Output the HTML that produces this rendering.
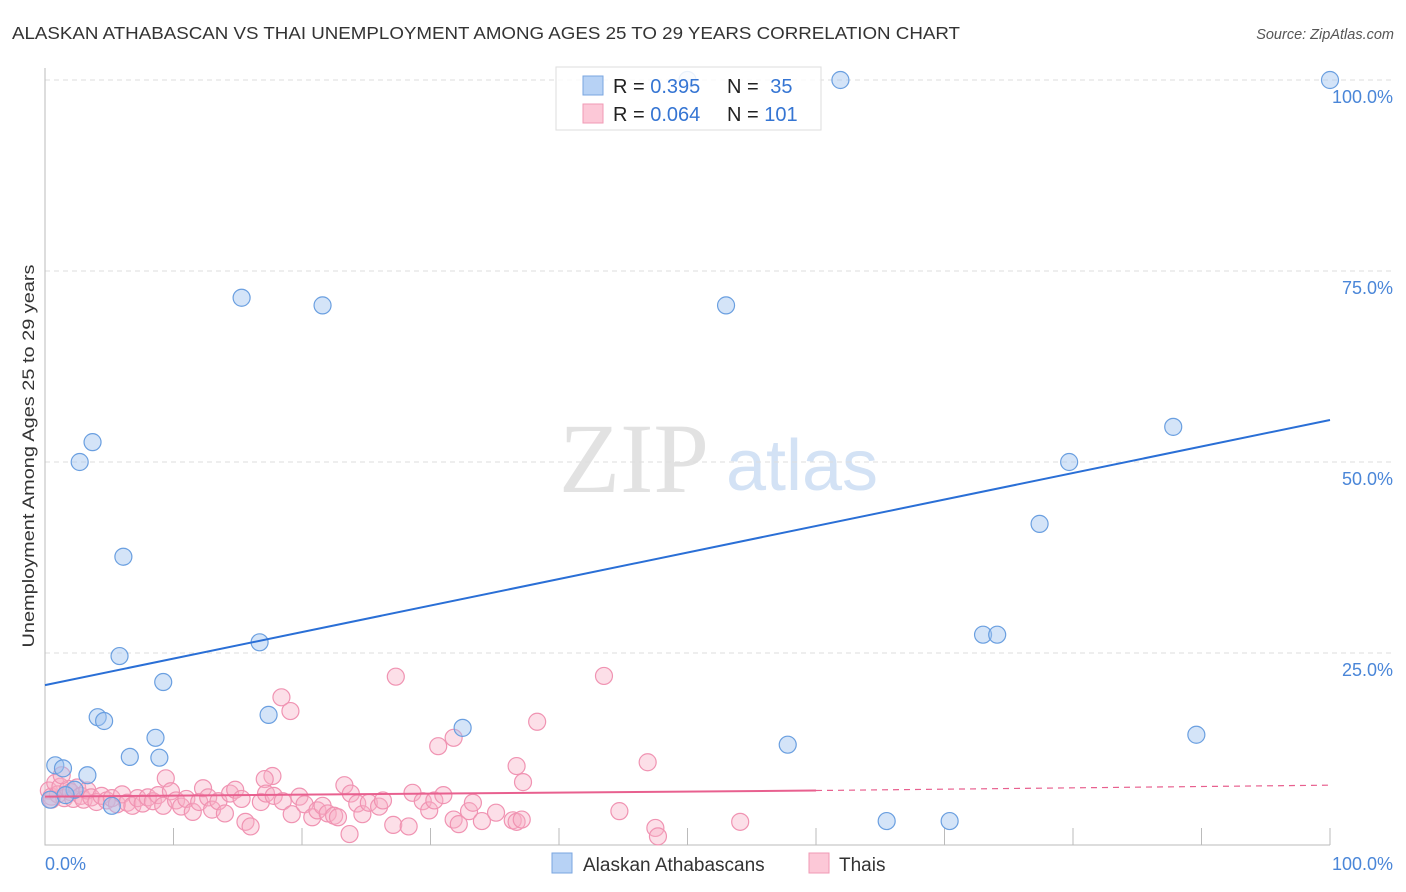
<!DOCTYPE html>
<html><head><meta charset="utf-8"><style>
body{margin:0;background:#fff;font-family:"Liberation Sans",sans-serif}
svg{display:block}
</style></head><body>
<svg id="c" width="1406" height="892" xmlns="http://www.w3.org/2000/svg">
<text x="12" y="39" font-size="17.5" fill="#333" textLength="948" lengthAdjust="spacingAndGlyphs">ALASKAN ATHABASCAN VS THAI UNEMPLOYMENT AMONG AGES 25 TO 29 YEARS CORRELATION CHART</text>
<text x="1394" y="39" font-size="14.5" fill="#555" font-style="italic" text-anchor="end">Source: ZipAtlas.com</text>
<text x="634" y="492" font-size="100" fill="#e2e2e2" text-anchor="middle" font-family="Liberation Serif,serif">ZIP</text>
<text x="802" y="490" font-size="72" fill="#d3e2f5" text-anchor="middle">atlas</text>
<text transform="translate(34,456) rotate(-90)" font-size="17" fill="#333" text-anchor="middle" textLength="383" lengthAdjust="spacingAndGlyphs">Unemployment Among Ages 25 to 29 years</text>
<g id="grid"></g><g id="marks"></g>
<g>
<rect x="556" y="67" width="265" height="63" fill="#fff" fill-opacity="0.85" stroke="#ddd"/>
<rect x="583" y="76" width="20" height="19" fill="#b7d2f5" stroke="#7aa6e0"/>
<rect x="583" y="104" width="20" height="19" fill="#fcc8d7" stroke="#f09ab4"/>
<text x="613" y="93" font-size="20" fill="#222">R = <tspan fill="#3575d3">0.395</tspan></text>
<text x="727" y="93" font-size="20" fill="#222">N = <tspan fill="#3575d3" dx="6">35</tspan></text>
<text x="613" y="121" font-size="20" fill="#222">R = <tspan fill="#3575d3">0.064</tspan></text>
<text x="727" y="121" font-size="20" fill="#222">N = <tspan fill="#3575d3">101</tspan></text>
</g>
<g>
<rect x="552" y="853" width="20" height="20" fill="#b7d2f5" stroke="#7aa6e0"/>
<text x="583" y="871" font-size="19" fill="#333">Alaskan Athabascans</text>
<rect x="809" y="853" width="20" height="20" fill="#fcc8d7" stroke="#f09ab4"/>
<text x="839" y="871" font-size="19" fill="#333">Thais</text>
</g>
<text x="45" y="870" font-size="18" fill="#4a86d8">0.0%</text>
<text x="1393" y="870" font-size="18" fill="#4a86d8" text-anchor="end">100.0%</text>
</svg>
<script>
const yTicks=[25,50,75,100];
const yTickLabels=["25.0%","50.0%","75.0%","100.0%"];
const blueX=[0.8,1.4,3.3,2.7,3.7,6.1,5.8,9.2,4.1,4.6,6.6,8.6,8.9,5.2,0.4,2.3,15.3,21.6,16.7,17.4,32.5,50.0,53.0,61.9,57.8,65.5,70.4,73.0,74.1,77.4,79.7,87.8,89.6,100,1.6];
const blueY=[10.3,9.9,9.0,50.0,52.6,37.6,24.6,21.2,16.6,16.1,11.4,13.9,11.3,5.0,5.8,7.1,71.5,70.5,26.4,16.9,15.2,100,70.5,100,13.0,3.0,3.0,27.4,27.4,41.9,50.0,54.6,14.3,100,6.4];
const pinkX=[27.3,43.5,18.4,19.1,38.3,31.8,30.6,36.7,37.2,46.9,44.7,54.1,47.5,47.7,23.7,9.4,17.7,17.1,23.3,
0.3,0.5,0.8,1.0,1.2,1.5,1.8,2.0,2.2,2.5,2.8,3.0,3.3,3.6,4.0,4.4,4.8,5.2,5.6,6.0,6.4,6.8,7.2,7.6,8.0,8.4,8.8,9.2,9.8,10.2,10.6,11.0,11.5,12.0,12.3,12.7,13.0,13.5,14.0,14.4,14.8,15.3,15.6,16.0,16.8,17.2,17.8,18.5,19.2,19.8,20.2,20.8,21.2,21.6,22.0,22.5,22.8,23.8,24.3,24.7,25.2,26.0,26.3,27.1,28.3,28.6,29.4,29.9,30.3,31.0,31.8,32.2,33.0,33.3,34.0,35.1,36.4,36.7,37.1,0.5,1.3];
const pinkY=[21.9,22.0,19.2,17.4,16.0,13.9,12.8,10.2,8.1,10.7,4.3,2.9,2.1,1.0,1.3,8.6,8.9,8.5,7.7,
7.0,6.2,8.0,6.5,7.5,6.0,7.2,6.8,5.9,7.4,6.3,5.8,7.0,6.1,5.5,6.3,5.7,6.0,5.2,6.5,5.4,5.0,6.0,5.3,6.1,5.6,6.4,5.0,6.9,5.7,4.9,5.9,4.2,5.5,7.3,6.1,4.5,5.6,4.0,6.6,7.1,5.9,2.9,2.3,5.5,6.6,6.3,5.6,3.9,6.2,5.2,3.5,4.4,5.0,4.0,3.7,3.5,6.6,5.3,3.9,5.4,4.9,5.7,2.5,2.3,6.7,5.6,4.4,5.7,6.4,3.2,2.6,4.3,5.4,3.0,4.1,3.1,2.9,3.2,5.8,9.0];
const blueTrend=[0,20.8,100,55.5];
const pinkTrend=[0,6.2,60,7.0,100,7.7];
const NS="http://www.w3.org/2000/svg";
const xs=v=>45+12.85*v, ys=v=>844-7.64*v;
function mk(p,t,a){const e=document.createElementNS(NS,t);for(const k in a)e.setAttribute(k,a[k]);p.appendChild(e);return e;}
const g=document.getElementById('grid'), m=document.getElementById('marks');
yTicks.forEach((t,i)=>{
 const l=mk(g,'line',{x1:45,x2:1393,y1:ys(t),y2:ys(t),stroke:'#dedede','stroke-dasharray':'5,4'});
 
 
 const tx=mk(g,'text',{x:1393,y:ys(t)+23,'font-size':18,fill:'#4a86d8','text-anchor':'end'});
 tx.textContent=yTickLabels[i];
 
 
});
const ax=mk(g,'path',{d:'M45 68V845H1330',stroke:'#bbb',fill:'none'});


for(let i=1;i<=10;i++){const tk=mk(g,'line',{x1:xs(i*10),x2:xs(i*10),y1:828,y2:845,stroke:'#bbb'});
 
 }
pinkX.forEach((x,i)=>{const c=mk(m,'circle',{cx:xs(x),cy:ys(pinkY[i]),r:8.5,fill:'rgba(248,175,198,0.4)',stroke:'#f093b2','stroke-width':1.2});
 
 });
blueX.forEach((x,i)=>{const c=mk(m,'circle',{cx:xs(x),cy:ys(blueY[i]),r:8.5,fill:'rgba(160,196,240,0.45)',stroke:'#6a9fe0','stroke-width':1.2});
 
 });
const bl=mk(m,'line',{x1:xs(blueTrend[0]),y1:ys(blueTrend[1]),x2:xs(blueTrend[2]),y2:ys(blueTrend[3]),stroke:'#2a6fd6','stroke-width':2});


const pl=mk(m,'line',{x1:xs(pinkTrend[0]),y1:ys(pinkTrend[1]),x2:xs(pinkTrend[2]),y2:ys(pinkTrend[3]),stroke:'#e8608f','stroke-width':2});


const pd=mk(m,'line',{x1:xs(pinkTrend[2]),y1:ys(pinkTrend[3]),x2:xs(pinkTrend[4]),y2:ys(pinkTrend[5]),stroke:'#e8608f','stroke-width':1.2,'stroke-dasharray':'6,5'});


</script>
</body></html>
